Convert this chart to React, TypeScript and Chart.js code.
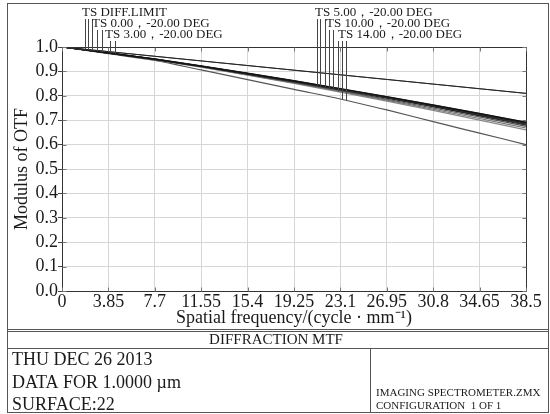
import React, { useEffect, useRef } from "react";
import { Chart, registerables } from "chart.js";
Chart.register(...registerables);

// ---- data ----
const freq = [0, 3.85, 7.7, 11.55, 15.4, 19.25, 23.1, 26.95, 30.8, 34.65, 38.5];
const xTickLabels = ["0", "3.85", "7.7", "11.55", "15.4", "19.25", "23.1", "26.95", "30.8", "34.65", "38.5"];
const yTickValues = [0, 0.1, 0.2, 0.3, 0.4, 0.5, 0.6, 0.7, 0.8, 0.9, 1.0];
const yTickLabels = ["0.0", "0.1", "0.2", "0.3", "0.4", "0.5", "0.6", "0.7", "0.8", "0.9", "1.0"];

const diffT = [1.0, 0.981, 0.962, 0.943, 0.924, 0.905, 0.886, 0.867, 0.848, 0.829, 0.81];
const diffS = [1.0, 0.981, 0.962, 0.943, 0.924, 0.905, 0.886, 0.867, 0.848, 0.829, 0.81];
const f0T = [1.0, 0.976, 0.95, 0.922, 0.892, 0.861, 0.829, 0.796, 0.762, 0.727, 0.691];
const f0S = [1.0, 0.976, 0.951, 0.923, 0.893, 0.862, 0.83, 0.797, 0.763, 0.728, 0.692];
const f3T = [1.0, 0.976, 0.95, 0.922, 0.891, 0.86, 0.828, 0.795, 0.76, 0.725, 0.688];
const f3S = [1.0, 0.976, 0.95, 0.921, 0.891, 0.86, 0.827, 0.794, 0.759, 0.723, 0.686];
const f5T = [1.0, 0.975, 0.949, 0.921, 0.89, 0.859, 0.826, 0.792, 0.757, 0.721, 0.684];
const f5S = [1.0, 0.975, 0.949, 0.92, 0.889, 0.857, 0.824, 0.79, 0.755, 0.718, 0.68];
const f10T = [1.0, 0.975, 0.948, 0.919, 0.888, 0.855, 0.821, 0.786, 0.75, 0.713, 0.675];
const f10S = [1.0, 0.975, 0.948, 0.918, 0.886, 0.853, 0.818, 0.782, 0.745, 0.707, 0.668];
const f14T = [1.0, 0.975, 0.947, 0.917, 0.885, 0.851, 0.815, 0.778, 0.74, 0.7, 0.66];
const f14S = [1.0, 0.973, 0.945, 0.906, 0.866, 0.826, 0.787, 0.742, 0.694, 0.647, 0.6];

const seriesList = [diffT, diffS, f0T, f0S, f3T, f3S, f5T, f5S, f10T, f10S, f14T, f14S];
const seriesNames = [
  "DIFF.LIMIT T", "DIFF.LIMIT S", "0.00 T", "0.00 S", "3.00 T", "3.00 S",
  "5.00 T", "5.00 S", "10.00 T", "10.00 S", "14.00 T", "14.00 S",
];
const seriesColors = ["#222", "#555", "#111", "#333", "#222", "#444", "#111", "#333", "#555", "#777", "#888", "#555"];

const leftLabels = ["TS DIFF.LIMIT", "TS 0.00，-20.00 DEG", "TS 3.00，-20.00 DEG"];
const rightLabels = ["TS 5.00，-20.00 DEG", "TS 10.00，-20.00 DEG", "TS 14.00，-20.00 DEG"];
// leader line frequencies, label row, and the series each points to
const leaderFreqs = [1.91, 2.16, 2.49, 2.9, 3.32, 3.98, 4.4, 21.16, 21.41, 21.82, 22.15, 22.48, 22.9, 23.23, 23.56];
const leaderRows = [0, 0, 0, 1, 1, 2, 2, 0, 0, 0, 1, 1, 2, 2, 2];
const leaderSeries = [0, 1, 2, 3, 4, 5, 5, 6, 7, 7, 8, 9, 10, 11, 11];

const xTitle = "Spatial frequency/(cycle · mm⁻¹)";
const yTitle = "Modulus of OTF";
const boxTitle = "DIFFRACTION MTF";
const infoLines = ["THU DEC 26 2013", "DATA FOR 1.0000 µm", "SURFACE:22"];
const fileLines = ["IMAGING SPECTROMETER.ZMX", "CONFIGURATION  1 OF 1"];

const SERIF = "'Liberation Serif', 'Times New Roman', serif";

function valueAt(series: number[], f: number): number {
  for (let i = 0; i < freq.length - 1; i++) {
    if (f >= freq[i] && f <= freq[i + 1]) {
      const t = (f - freq[i]) / (freq[i + 1] - freq[i]);
      return series[i] + t * (series[i + 1] - series[i]);
    }
  }
  return series[series.length - 1];
}

const decor = {
  id: "zemaxDecor",
  afterDraw(chart: any) {
    const ctx = chart.ctx as CanvasRenderingContext2D;
    const { left, right, top, bottom } = chart.chartArea;
    const xs = chart.scales.x;
    const ys = chart.scales.y;
    ctx.save();
    const L = Math.round(left) + 0.5, R = Math.round(right) + 0.5;
    const T = Math.round(top) + 0.5, B = Math.round(bottom) + 0.5;

    // plot box
    ctx.strokeStyle = "#333";
    ctx.lineWidth = 1;
    ctx.strokeRect(L, T, R - L, B - T);
    // inner ticks right/top/left
    ctx.strokeStyle = "#777";
    ctx.beginPath();
    yTickValues.forEach((v) => {
      const y = Math.round(ys.getPixelForValue(v)) + 0.5;
      ctx.moveTo(R, y); ctx.lineTo(R - 4, y);
      ctx.moveTo(L, y); ctx.lineTo(L + 4, y);
    });
    freq.forEach((f) => {
      const x = Math.round(xs.getPixelForValue(f)) + 0.5;
      ctx.moveTo(x, T); ctx.lineTo(x, T + 4);
      ctx.moveTo(x, B); ctx.lineTo(x, B - 4);
    });
    ctx.stroke();

    // leader lines
    const rowMid = [13, 24, 35];
    ctx.strokeStyle = "#444";
    ctx.beginPath();
    leaderFreqs.forEach((f, i) => {
      const x = Math.round(xs.getPixelForValue(f)) + 0.5;
      const yTop = rowMid[leaderRows[i]] + 6;
      const yBot = ys.getPixelForValue(valueAt(seriesList[leaderSeries[i]], f));
      ctx.moveTo(x, yTop); ctx.lineTo(x, yBot);
    });
    ctx.stroke();

    // labels
    ctx.fillStyle = "#1a1a1a";
    ctx.font = `13px ${SERIF}`;
    ctx.textBaseline = "middle";
    ctx.textAlign = "left";
    const leftX = [82, 92, 105];
    const rightX = [315, 326, 338];
    leftLabels.forEach((t, i) => ctx.fillText(t, leftX[i], rowMid[i]));
    rightLabels.forEach((t, i) => ctx.fillText(t, rightX[i], rowMid[i]));

    // axis titles
    ctx.font = `18px ${SERIF}`;
    ctx.textAlign = "center";
    ctx.fillText(xTitle, (left + right) / 2, 318);
    ctx.save();
    ctx.translate(22, (top + bottom) / 2);
    ctx.rotate(-Math.PI / 2);
    ctx.fillText(yTitle, 0, 0);
    ctx.restore();

    // outer frame and info boxes
    ctx.strokeStyle = "#555";
    ctx.lineWidth = 1;
    ctx.strokeRect(7.5, 3.5, 541, 409);
    ctx.beginPath();
    ctx.moveTo(7, 329.5); ctx.lineTo(549, 329.5);
    ctx.moveTo(7, 331.5); ctx.lineTo(549, 331.5);
    ctx.moveTo(7, 348.5); ctx.lineTo(549, 348.5);
    ctx.moveTo(370.5, 348); ctx.lineTo(370.5, 413);
    ctx.stroke();

    ctx.fillStyle = "#1a1a1a";
    ctx.font = `15px ${SERIF}`;
    ctx.textAlign = "center";
    ctx.fillText(boxTitle, 276, 340);

    ctx.textAlign = "left";
    ctx.font = `18px ${SERIF}`;
    const infoY = [360, 383, 405];
    infoLines.forEach((t, i) => ctx.fillText(t, 12, infoY[i]));
    ctx.font = `11px ${SERIF}`;
    const fileY = [393, 406];
    fileLines.forEach((t, i) => ctx.fillText(t, 376, fileY[i]));

    ctx.restore();
  },
};

export default function App() {
  const ref = useRef<HTMLCanvasElement | null>(null);
  useEffect(() => {
    if (!ref.current) return;
    const chart = new Chart(ref.current, {
      type: "line",
      data: {
        datasets: seriesList.map((s, i) => ({
          label: seriesNames[i],
          data: s.map((v, j) => ({ x: freq[j], y: v })),
          borderColor: seriesColors[i],
          borderWidth: i < 2 ? 1 : 1.2,
          pointRadius: 0,
          fill: false,
          cubicInterpolationMode: "monotone" as const,
        })),
      },
      options: {
        animation: false,
        responsive: false,
        devicePixelRatio: 1,
        layout: { padding: { left: 0, top: 47, right: 24, bottom: 0 } },
        plugins: { legend: { display: false }, tooltip: { enabled: false }, title: { display: false } },
        scales: {
          x: {
            type: "linear",
            min: 0,
            max: 38.5,
            afterFit: (s: any) => { s.height = 123; },
            afterBuildTicks: (s: any) => { s.ticks = freq.map((v) => ({ value: v })); },
            ticks: {
              autoSkip: false,
              maxRotation: 0,
              padding: 0,
              color: "#1a1a1a",
              font: { family: SERIF, size: 18 },
              callback: (_v: any, i: number) => xTickLabels[i],
            },
            grid: { color: "#d6d6d6", drawTicks: false },
            border: { display: true, color: "#333" },
          },
          y: {
            type: "linear",
            min: 0,
            max: 1,
            afterFit: (s: any) => { s.width = 62; },
            afterBuildTicks: (s: any) => { s.ticks = yTickValues.map((v) => ({ value: v })); },
            ticks: {
              autoSkip: false,
              padding: 0,
              color: "#1a1a1a",
              font: { family: SERIF, size: 18 },
              callback: (_v: any, i: number) => yTickLabels[i],
            },
            grid: { color: "#d6d6d6", tickLength: 4, tickColor: "#444" },
            border: { display: true, color: "#333" },
          },
        },
      },
      plugins: [decor],
    });
    return () => chart.destroy();
  }, []);
  return (
    <div style={{ position: "fixed", left: 0, top: 0, width: 550, height: 414, background: "#fff" }}>
      <canvas ref={ref} width={550} height={414} style={{ width: 550, height: 414, display: "block" }} />
    </div>
  );
}
